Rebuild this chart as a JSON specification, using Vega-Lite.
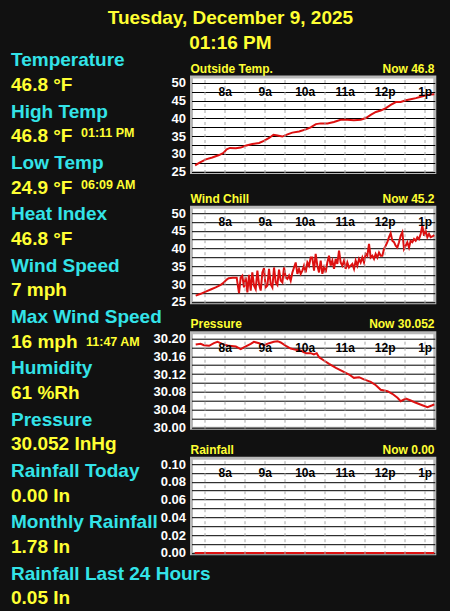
{
  "$schema": "https://vega.github.io/schema/vega-lite/v6.json",
  "background": "#111111",
  "padding": {"left": 11, "top": 8, "right": 16, "bottom": 2},
  "title": {
    "text": ["Tuesday, December 9, 2025", "01:16 PM"],
    "color": "#ffff33",
    "font": "Liberation Sans",
    "fontSize": 19,
    "fontWeight": "bold",
    "lineHeight": 25,
    "anchor": "middle",
    "dx": 5,
    "offset": -1.5
  },
  "align": "none",
  "spacing": -60.5,
  "hconcat": [
    {
      "width": 100,
      "height": 400,
      "data": {"values": [
        {"item": "Temperature", "value": "46.8 °F"},
        {"item": "High Temp", "value": "46.8 °F", "note": "01:11 PM"},
        {"item": "Low Temp", "value": "24.9 °F", "note": "06:09 AM"},
        {"item": "Heat Index", "value": "46.8 °F"},
        {"item": "Wind Speed", "value": "7 mph"},
        {"item": "Max Wind Speed", "value": "16 mph", "note": "11:47 AM"},
        {"item": "Humidity", "value": "61 %Rh"},
        {"item": "Pressure", "value": "30.052 InHg"},
        {"item": "Rainfall Today", "value": "0.00 In"},
        {"item": "Monthly Rainfall", "value": "1.78 In"},
        {"item": "Rainfall Last 24 Hours", "value": "0.05 In"}
      ]},
      "encoding": {
        "y": {"field": "item", "type": "nominal", "sort": null, "axis": null,
              "scale": {"type": "point", "padding": 0, "range": [-4.1, 509.3]}}
      },
      "layer": [
        {"mark": {"type": "text", "x": 0, "dy": -12.5, "align": "left", "baseline": "middle", "font": "Liberation Sans", "fontSize": 19, "fontWeight": "bold", "color": "#33e3e8"},
         "encoding": {"text": {"field": "item"}}},
        {"mark": {"type": "text", "x": 0, "dy": 12, "align": "left", "baseline": "middle", "font": "Liberation Sans", "fontSize": 19, "fontWeight": "bold", "color": "#ffff33"},
         "encoding": {"text": {"field": "value"}}},
        {"transform": [{"filter": "isValid(datum.note) && datum.item != 'Max Wind Speed'"}],
         "mark": {"type": "text", "x": 70, "dy": 9, "align": "left", "baseline": "middle", "font": "Liberation Sans", "fontSize": 12.5, "fontWeight": "bold", "color": "#ffff33"},
         "encoding": {"text": {"field": "note"}}},
        {"transform": [{"filter": "datum.item == 'Max Wind Speed'"}],
         "mark": {"type": "text", "x": 75, "dy": 12, "align": "left", "baseline": "middle", "font": "Liberation Sans", "fontSize": 12.5, "fontWeight": "bold", "color": "#ffff33"},
         "encoding": {"text": {"field": "note"}}}
      ]
    },
    {
      "align": "none",
      "spacing": 9.2,
      "vconcat": [
        {
          "width": 243.3,
          "height": 95.5,
          "view": {"fill": "#ffffff", "stroke": "#b8b8b8", "strokeWidth": 3},
          "data": {"values": [
            {"hour": 7.26, "value": 26.8}, {"hour": 7.36, "value": 27.5}, {"hour": 7.53, "value": 28.5}, {"hour": 7.69, "value": 29.0},
            {"hour": 7.86, "value": 29.7}, {"hour": 7.97, "value": 30.3}, {"hour": 8.05, "value": 31.3}, {"hour": 8.13, "value": 31.7},
            {"hour": 8.28, "value": 31.6}, {"hour": 8.4, "value": 31.8}, {"hour": 8.54, "value": 32.4}, {"hour": 8.69, "value": 32.8},
            {"hour": 8.86, "value": 33.1}, {"hour": 8.98, "value": 33.7}, {"hour": 9.11, "value": 34.5}, {"hour": 9.22, "value": 35.4},
            {"hour": 9.32, "value": 35.2}, {"hour": 9.44, "value": 34.9}, {"hour": 9.57, "value": 35.5}, {"hour": 9.69, "value": 36.0},
            {"hour": 9.86, "value": 36.3}, {"hour": 10.03, "value": 36.9}, {"hour": 10.15, "value": 37.5}, {"hour": 10.28, "value": 38.4},
            {"hour": 10.4, "value": 38.6}, {"hour": 10.57, "value": 38.6}, {"hour": 10.73, "value": 39.0}, {"hour": 10.9, "value": 39.6},
            {"hour": 11.07, "value": 39.6}, {"hour": 11.23, "value": 39.5}, {"hour": 11.4, "value": 39.6}, {"hour": 11.53, "value": 40.1},
            {"hour": 11.65, "value": 41.0}, {"hour": 11.78, "value": 41.8}, {"hour": 11.9, "value": 42.2}, {"hour": 12.03, "value": 42.9},
            {"hour": 12.15, "value": 43.8}, {"hour": 12.28, "value": 44.6}, {"hour": 12.4, "value": 44.6}, {"hour": 12.53, "value": 45.1},
            {"hour": 12.65, "value": 45.4}, {"hour": 12.78, "value": 45.7}, {"hour": 12.9, "value": 46.1}, {"hour": 13.03, "value": 46.5},
            {"hour": 13.15, "value": 46.7}, {"hour": 13.24, "value": 46.8}
          ]},
          "mark": {"type": "line", "color": "#dd1111", "strokeWidth": 2},
          "encoding": {
            "x": {"field": "hour", "type": "quantitative",
                  "scale": {"domain": [7.17, 13.2525], "nice": false, "zero": false},
                  "axis": {"orient": "top", "values": [7.5, 8, 8.5, 9, 9.5, 10, 10.5, 11, 11.5, 12, 12.5, 13],
                           "labelExpr": "datum.value % 1 == 0 ? (datum.value < 12 ? datum.value + 'a' : (datum.value == 12 ? '12p' : (datum.value - 12) + 'p')) : ''",
                           "labelPadding": -14.7, "labelBaseline": "middle", "labelColor": "#000000", "labelFont": "Liberation Sans", "labelFontSize": 12, "labelFontWeight": "bold",
                           "labelOverlap": false, "labelFlush": false, "labelBound": false, "ticks": false, "domain": false,
                           "grid": true, "gridColor": "#a8a8a8", "gridDash": [3, 3], "gridWidth": 1,
                           "title": "Now 46.8", "titleX": 242.5, "titleY": -9, "titleAlign": "right", "titleBaseline": "middle", "titleColor": "#ffff33", "titleFont": "Liberation Sans", "titleFontSize": 12, "titleFontWeight": "bold", "zindex": 1}},
            "y": {"field": "value", "type": "quantitative",
                  "scale": {"domain": [24.8, 51.63], "nice": false, "zero": false},
                  "axis": {"values": [25, 27.5, 30, 32.5, 35, 37.5, 40, 42.5, 45, 47.5, 50],
                           "labelExpr": "datum.value % 5 == 0 ? format(datum.value, 'd') : ''",
                           "labelColor": "#ffffff", "labelFont": "Liberation Sans", "labelFontSize": 13, "labelFontWeight": "bold", "labelPadding": 6, "labelBaseline": "middle",
                           "labelOverlap": false, "labelFlush": false, "ticks": false, "domain": false,
                           "grid": true, "gridColor": "#000000", "gridWidth": 1,
                           "title": "Outside Temp.", "titleAngle": 0, "titleX": -1.5, "titleY": -9, "titleAlign": "left", "titleBaseline": "middle", "titleColor": "#ffff33", "titleFont": "Liberation Sans", "titleFontSize": 12, "titleFontWeight": "bold"}}
          }
        },
        {
          "spacing": 4.5,
          "vconcat": [
            {
              "width": 243.3,
              "height": 95.5,
              "view": {"fill": "#ffffff", "stroke": "#b8b8b8", "strokeWidth": 3},
              "data": {"values": [
                {"hour": 7.275, "value": 26.8}, {"hour": 7.4, "value": 27.3}, {"hour": 7.525, "value": 27.9}, {"hour": 7.65, "value": 28.5},
                {"hour": 7.775, "value": 29.1}, {"hour": 7.9, "value": 29.8}, {"hour": 7.96, "value": 30.3}, {"hour": 8.05, "value": 31.3},
                {"hour": 8.1, "value": 31.7}, {"hour": 8.2, "value": 31.8}, {"hour": 8.3, "value": 31.8}, {"hour": 8.358, "value": 27.5},
                {"hour": 8.4, "value": 31.9}, {"hour": 8.44, "value": 32.4}, {"hour": 8.483, "value": 29.1}, {"hour": 8.525, "value": 31.9},
                {"hour": 8.567, "value": 27.7}, {"hour": 8.608, "value": 32.6}, {"hour": 8.65, "value": 28.2}, {"hour": 8.69, "value": 33.3},
                {"hour": 8.733, "value": 29.6}, {"hour": 8.775, "value": 28.6}, {"hour": 8.817, "value": 33.8}, {"hour": 8.858, "value": 30.0},
                {"hour": 8.9, "value": 28.2}, {"hour": 8.942, "value": 33.3}, {"hour": 8.983, "value": 34.5}, {"hour": 9.025, "value": 29.1},
                {"hour": 9.067, "value": 29.6}, {"hour": 9.108, "value": 34.3}, {"hour": 9.15, "value": 30.0}, {"hour": 9.192, "value": 29.1},
                {"hour": 9.233, "value": 34.7}, {"hour": 9.275, "value": 30.5}, {"hour": 9.317, "value": 29.8}, {"hour": 9.358, "value": 34.1},
                {"hour": 9.4, "value": 31.0}, {"hour": 9.442, "value": 30.5}, {"hour": 9.483, "value": 34.7}, {"hour": 9.525, "value": 31.9},
                {"hour": 9.567, "value": 31.5}, {"hour": 9.608, "value": 32.4}, {"hour": 9.65, "value": 31.0}, {"hour": 9.692, "value": 33.3},
                {"hour": 9.733, "value": 34.7}, {"hour": 9.775, "value": 36.1}, {"hour": 9.817, "value": 32.9}, {"hour": 9.858, "value": 34.3},
                {"hour": 9.9, "value": 32.9}, {"hour": 9.942, "value": 33.8}, {"hour": 9.983, "value": 35.2}, {"hour": 10.025, "value": 33.3},
                {"hour": 10.067, "value": 36.1}, {"hour": 10.108, "value": 35.2}, {"hour": 10.15, "value": 37.5}, {"hour": 10.19, "value": 37.5},
                {"hour": 10.233, "value": 33.8}, {"hour": 10.274, "value": 38.5}, {"hour": 10.316, "value": 35.2}, {"hour": 10.358, "value": 33.3},
                {"hour": 10.4, "value": 36.6}, {"hour": 10.441, "value": 32.9}, {"hour": 10.483, "value": 34.7}, {"hour": 10.524, "value": 33.3},
                {"hour": 10.566, "value": 36.1}, {"hour": 10.608, "value": 38.0}, {"hour": 10.649, "value": 35.2}, {"hour": 10.691, "value": 36.6},
                {"hour": 10.733, "value": 34.3}, {"hour": 10.774, "value": 37.1}, {"hour": 10.816, "value": 35.7}, {"hour": 10.858, "value": 39.4},
                {"hour": 10.899, "value": 36.1}, {"hour": 10.941, "value": 35.2}, {"hour": 10.983, "value": 36.6}, {"hour": 11.024, "value": 34.3},
                {"hour": 11.066, "value": 36.1}, {"hour": 11.108, "value": 34.7}, {"hour": 11.149, "value": 35.2}, {"hour": 11.191, "value": 35.7},
                {"hour": 11.233, "value": 34.3}, {"hour": 11.274, "value": 36.6}, {"hour": 11.316, "value": 35.2}, {"hour": 11.358, "value": 37.1},
                {"hour": 11.399, "value": 36.1}, {"hour": 11.441, "value": 37.5}, {"hour": 11.483, "value": 36.1}, {"hour": 11.524, "value": 38.5},
                {"hour": 11.566, "value": 38.0}, {"hour": 11.608, "value": 41.3}, {"hour": 11.649, "value": 37.5}, {"hour": 11.691, "value": 38.0},
                {"hour": 11.733, "value": 37.1}, {"hour": 11.774, "value": 38.5}, {"hour": 11.816, "value": 37.5}, {"hour": 11.858, "value": 38.9},
                {"hour": 11.899, "value": 38.0}, {"hour": 11.941, "value": 38.0}, {"hour": 11.983, "value": 39.9}, {"hour": 12.024, "value": 40.8},
                {"hour": 12.066, "value": 41.8}, {"hour": 12.108, "value": 43.2}, {"hour": 12.149, "value": 44.3}, {"hour": 12.191, "value": 42.2},
                {"hour": 12.233, "value": 41.8}, {"hour": 12.274, "value": 40.8}, {"hour": 12.316, "value": 40.3}, {"hour": 12.358, "value": 41.8},
                {"hour": 12.399, "value": 43.6}, {"hour": 12.441, "value": 44.6}, {"hour": 12.483, "value": 39.9}, {"hour": 12.524, "value": 40.8},
                {"hour": 12.566, "value": 41.8}, {"hour": 12.608, "value": 40.3}, {"hour": 12.649, "value": 42.2}, {"hour": 12.691, "value": 41.8},
                {"hour": 12.733, "value": 42.7}, {"hour": 12.774, "value": 42.2}, {"hour": 12.816, "value": 43.2}, {"hour": 12.858, "value": 42.7},
                {"hour": 12.899, "value": 44.1}, {"hour": 12.941, "value": 46.4}, {"hour": 12.983, "value": 43.6}, {"hour": 13.024, "value": 45.0},
                {"hour": 13.066, "value": 43.2}, {"hour": 13.108, "value": 44.1}, {"hour": 13.149, "value": 43.2}, {"hour": 13.191, "value": 43.4},
                {"hour": 13.24, "value": 43.8}
              ]},
              "mark": {"type": "line", "color": "#dd1111", "strokeWidth": 2},
              "encoding": {
                "x": {"field": "hour", "type": "quantitative",
                      "scale": {"domain": [7.17, 13.2525], "nice": false, "zero": false},
                      "axis": {"orient": "top", "values": [7.5, 8, 8.5, 9, 9.5, 10, 10.5, 11, 11.5, 12, 12.5, 13],
                               "labelExpr": "datum.value % 1 == 0 ? (datum.value < 12 ? datum.value + 'a' : (datum.value == 12 ? '12p' : (datum.value - 12) + 'p')) : ''",
                               "labelPadding": -14.7, "labelBaseline": "middle", "labelColor": "#000000", "labelFont": "Liberation Sans", "labelFontSize": 12, "labelFontWeight": "bold",
                               "labelOverlap": false, "labelFlush": false, "labelBound": false, "ticks": false, "domain": false,
                               "grid": true, "gridColor": "#a8a8a8", "gridDash": [3, 3], "gridWidth": 1,
                               "title": "Now 45.2", "titleX": 242.5, "titleY": -9, "titleAlign": "right", "titleBaseline": "middle", "titleColor": "#ffff33", "titleFont": "Liberation Sans", "titleFontSize": 12, "titleFontWeight": "bold", "zindex": 1}},
                "y": {"field": "value", "type": "quantitative",
                      "scale": {"domain": [24.8, 51.63], "nice": false, "zero": false},
                      "axis": {"values": [25, 27.5, 30, 32.5, 35, 37.5, 40, 42.5, 45, 47.5, 50],
                               "labelExpr": "datum.value % 5 == 0 ? format(datum.value, 'd') : ''",
                               "labelColor": "#ffffff", "labelFont": "Liberation Sans", "labelFontSize": 13, "labelFontWeight": "bold", "labelPadding": 6, "labelBaseline": "middle",
                               "labelOverlap": false, "labelFlush": false, "ticks": false, "domain": false,
                               "grid": true, "gridColor": "#000000", "gridWidth": 1,
                               "title": "Wind Chill", "titleAngle": 0, "titleX": -1.5, "titleY": -9, "titleAlign": "left", "titleBaseline": "middle", "titleColor": "#ffff33", "titleFont": "Liberation Sans", "titleFontSize": 12, "titleFontWeight": "bold"}}
              }
            },
            {
              "width": 243.3,
              "height": 95.5,
              "view": {"fill": "#ffffff", "stroke": "#b8b8b8", "strokeWidth": 3},
              "data": {"values": [
                {"hour": 7.275, "value": 30.1865}, {"hour": 7.4, "value": 30.188}, {"hour": 7.48, "value": 30.185}, {"hour": 7.61, "value": 30.1835},
                {"hour": 7.73, "value": 30.1895}, {"hour": 7.82, "value": 30.1925}, {"hour": 7.94, "value": 30.188}, {"hour": 8.11, "value": 30.1835},
                {"hour": 8.28, "value": 30.182}, {"hour": 8.4, "value": 30.176}, {"hour": 8.48, "value": 30.18}, {"hour": 8.65, "value": 30.188},
                {"hour": 8.73, "value": 30.1925}, {"hour": 8.86, "value": 30.1895}, {"hour": 8.98, "value": 30.185}, {"hour": 9.11, "value": 30.1895},
                {"hour": 9.23, "value": 30.1925}, {"hour": 9.32, "value": 30.194}, {"hour": 9.4, "value": 30.191}, {"hour": 9.53, "value": 30.1835},
                {"hour": 9.65, "value": 30.1775}, {"hour": 9.78, "value": 30.1745}, {"hour": 9.9, "value": 30.173}, {"hour": 10.03, "value": 30.167},
                {"hour": 10.15, "value": 30.167}, {"hour": 10.23, "value": 30.164}, {"hour": 10.3, "value": 30.167}, {"hour": 10.36, "value": 30.158},
                {"hour": 10.48, "value": 30.1505}, {"hour": 10.61, "value": 30.143}, {"hour": 10.78, "value": 30.134}, {"hour": 10.94, "value": 30.1266},
                {"hour": 11.11, "value": 30.119}, {"hour": 11.23, "value": 30.1116}, {"hour": 11.36, "value": 30.113}, {"hour": 11.48, "value": 30.108},
                {"hour": 11.65, "value": 30.1026}, {"hour": 11.78, "value": 30.095}, {"hour": 11.9, "value": 30.0847}, {"hour": 12.07, "value": 30.0817},
                {"hour": 12.19, "value": 30.0757}, {"hour": 12.32, "value": 30.0667}, {"hour": 12.4, "value": 30.0592}, {"hour": 12.53, "value": 30.065},
                {"hour": 12.65, "value": 30.0607}, {"hour": 12.78, "value": 30.0555}, {"hour": 12.94, "value": 30.05}, {"hour": 13.07, "value": 30.0457},
                {"hour": 13.19, "value": 30.05}, {"hour": 13.24, "value": 30.052}
              ]},
              "mark": {"type": "line", "color": "#dd1111", "strokeWidth": 2},
              "encoding": {
                "x": {"field": "hour", "type": "quantitative",
                      "scale": {"domain": [7.17, 13.2525], "nice": false, "zero": false},
                      "axis": {"orient": "top", "values": [7.5, 8, 8.5, 9, 9.5, 10, 10.5, 11, 11.5, 12, 12.5, 13],
                               "labelExpr": "datum.value % 1 == 0 ? (datum.value < 12 ? datum.value + 'a' : (datum.value == 12 ? '12p' : (datum.value - 12) + 'p')) : ''",
                               "labelPadding": -14.7, "labelBaseline": "middle", "labelColor": "#000000", "labelFont": "Liberation Sans", "labelFontSize": 12, "labelFontWeight": "bold",
                               "labelOverlap": false, "labelFlush": false, "labelBound": false, "ticks": false, "domain": false,
                               "grid": true, "gridColor": "#a8a8a8", "gridDash": [3, 3], "gridWidth": 1,
                               "title": "Now 30.052", "titleX": 242.5, "titleY": -9, "titleAlign": "right", "titleBaseline": "middle", "titleColor": "#ffff33", "titleFont": "Liberation Sans", "titleFontSize": 12, "titleFontWeight": "bold", "zindex": 1}},
                "y": {"field": "value", "type": "quantitative",
                      "scale": {"domain": [29.99843, 30.21303], "nice": false, "zero": false},
                      "axis": {"values": [30.0, 30.02, 30.04, 30.06, 30.08, 30.1, 30.12, 30.14, 30.16, 30.18, 30.2],
                               "labelExpr": "round(datum.value * 100) % 4 == 0 ? format(datum.value, '.2f') : ''",
                               "labelColor": "#ffffff", "labelFont": "Liberation Sans", "labelFontSize": 13, "labelFontWeight": "bold", "labelPadding": 6, "labelBaseline": "middle",
                               "labelOverlap": false, "labelFlush": false, "ticks": false, "domain": false,
                               "grid": true, "gridColor": "#000000", "gridWidth": 1,
                               "title": "Pressure", "titleAngle": 0, "titleX": -1.5, "titleY": -9, "titleAlign": "left", "titleBaseline": "middle", "titleColor": "#ffff33", "titleFont": "Liberation Sans", "titleFontSize": 12, "titleFontWeight": "bold"}}
              }
            },
            {
              "width": 243.3,
              "height": 95.5,
              "view": {"fill": "#ffffff", "stroke": "#b8b8b8", "strokeWidth": 3},
              "data": {"values": [
                {"hour": 7.25, "value": 0}, {"hour": 8.0, "value": 0}, {"hour": 9.0, "value": 0}, {"hour": 10.0, "value": 0},
                {"hour": 11.0, "value": 0}, {"hour": 12.0, "value": 0}, {"hour": 13.0, "value": 0}, {"hour": 13.24, "value": 0}
              ]},
              "mark": {"type": "line", "color": "#dd1111", "strokeWidth": 2},
              "encoding": {
                "x": {"field": "hour", "type": "quantitative",
                      "scale": {"domain": [7.17, 13.2525], "nice": false, "zero": false},
                      "axis": {"orient": "top", "values": [7.5, 8, 8.5, 9, 9.5, 10, 10.5, 11, 11.5, 12, 12.5, 13],
                               "labelExpr": "datum.value % 1 == 0 ? (datum.value < 12 ? datum.value + 'a' : (datum.value == 12 ? '12p' : (datum.value - 12) + 'p')) : ''",
                               "labelPadding": -14.7, "labelBaseline": "middle", "labelColor": "#000000", "labelFont": "Liberation Sans", "labelFontSize": 12, "labelFontWeight": "bold",
                               "labelOverlap": false, "labelFlush": false, "labelBound": false, "ticks": false, "domain": false,
                               "grid": true, "gridColor": "#a8a8a8", "gridDash": [3, 3], "gridWidth": 1,
                               "title": "Now 0.00", "titleX": 242.5, "titleY": -9, "titleAlign": "right", "titleBaseline": "middle", "titleColor": "#ffff33", "titleFont": "Liberation Sans", "titleFontSize": 12, "titleFontWeight": "bold", "zindex": 1}},
                "y": {"field": "value", "type": "quantitative",
                      "scale": {"domain": [-0.000787, 0.106517], "nice": false, "zero": false},
                      "axis": {"values": [0, 0.01, 0.02, 0.03, 0.04, 0.05, 0.06, 0.07, 0.08, 0.09, 0.1],
                               "labelExpr": "round(datum.value * 100) % 2 == 0 ? format(datum.value, '.2f') : ''",
                               "labelColor": "#ffffff", "labelFont": "Liberation Sans", "labelFontSize": 13, "labelFontWeight": "bold", "labelPadding": 6, "labelBaseline": "middle",
                               "labelOverlap": false, "labelFlush": false, "ticks": false, "domain": false,
                               "grid": true, "gridColor": "#000000", "gridWidth": 1,
                               "title": "Rainfall", "titleAngle": 0, "titleX": -1.5, "titleY": -9, "titleAlign": "left", "titleBaseline": "middle", "titleColor": "#ffff33", "titleFont": "Liberation Sans", "titleFontSize": 12, "titleFontWeight": "bold"}}
              }
            }
          ]
        }
      ]
    }
  ],
  "config": {
    "font": "Liberation Sans",
    "view": {"stroke": null}
  }
}
